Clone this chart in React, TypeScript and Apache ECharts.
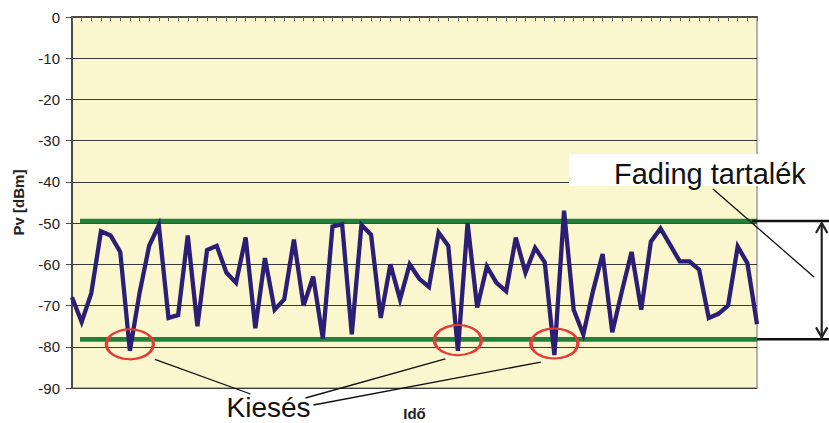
import React, { useEffect, useRef } from "react";
import * as echarts from "echarts";

// ---- data ----
const timeSteps = [
  "1","2","3","4","5","6","7","8","9","10","11","12","13","14","15","16","17","18",
  "19","20","21","22","23","24","25","26","27","28","29","30","31","32","33","34","35","36",
  "37","38","39","40","41","42","43","44","45","46","47","48","49","50","51","52","53","54",
  "55","56","57","58","59","60","61","62","63","64","65","66","67","68","69","70","71","72",
];
const signalLevel = [
  -68, -74, -67, -52, -53, -57, -81, -67, -55.5, -50.5, -73, -72.3,
  -53, -75, -56.5, -55.5, -62, -64.5, -53.5, -75.5, -58.5, -71, -68.5, -54,
  -70, -63, -78, -50.8, -50.3, -77, -50.4, -52.8, -73, -60, -68.5, -60,
  -63.5, -65.5, -52.3, -55.5, -81, -50, -70.5, -60.5, -64.5, -66.5, -53.5, -62,
  -56, -59.5, -82, -47, -71, -77, -66.5, -57.5, -76.5, -66.5, -57, -71,
  -54.5, -51.3, -55.3, -59.3, -59.3, -61.3, -73, -72, -70, -55.7, -59.7, -74.5,
];
const yMin = -90;
const yMax = 0;
const yStep = 10;
const upperLevel = -49.5; // fading margin top
const lowerLevel = -78.2; // sensitivity threshold
const outageIndex = [6, 40, 50];
const outageMarkLevel = [-79.4, -78.4, -79.2];
const yAxisTitle = "Pv [dBm]";
const xAxisTitle = "Idő";
const marginLabel = "Fading tartalék";
const outageLabel = "Kiesés";

const FONT = "'Liberation Sans', Arial, Helvetica, sans-serif";

export default function App() {
  const ref = useRef<HTMLDivElement>(null);

  useEffect(() => {
    if (!ref.current) return;
    const chart = echarts.init(ref.current, undefined, { renderer: "svg" });

    chart.setOption({
      animation: false,
      backgroundColor: "#ffffff",
      textStyle: { fontFamily: FONT },
      grid: {
        left: 72,
        right: 72,
        top: 17,
        bottom: 35,
        show: true,
        backgroundColor: "#FAF6CE",
        borderColor: "#9a9a9a",
        borderWidth: 1.5,
        containLabel: false,
        outerBoundsMode: "none",
      },
      xAxis: {
        type: "category",
        data: timeSteps,
        boundaryGap: false,
        name: xAxisTitle,
        nameLocation: "middle",
        nameGap: 18,
        nameTextStyle: { fontFamily: FONT, fontSize: 15, fontWeight: "bold", color: "#222" },
        axisLine: { show: true, lineStyle: { color: "#4a4a4a", width: 2 } },
        axisTick: { show: true, interval: 0, length: 4, lineStyle: { color: "#666", width: 1 } },
        axisLabel: { show: false, interval: 0 },
        splitLine: { show: false },
      },
      yAxis: {
        type: "value",
        min: yMin,
        max: yMax,
        interval: yStep,
        name: yAxisTitle,
        nameLocation: "middle",
        nameGap: 46,
        nameRotate: 90,
        nameTextStyle: { fontFamily: FONT, fontSize: 15, fontWeight: "bold", color: "#222" },
        axisLine: { show: true, lineStyle: { color: "#4a4a4a", width: 2 } },
        axisTick: { show: true, length: 6, lineStyle: { color: "#4a4a4a", width: 1 } },
        axisLabel: { fontFamily: FONT, fontSize: 15, color: "#222", margin: 12 },
        splitLine: { show: true, lineStyle: { color: "#3a3a3a", width: 1 } },
      },
      series: [
        {
          type: "line",
          data: signalLevel,
          symbol: "none",
          z: 3,
          lineStyle: { color: "#2B1E74", width: 4.3, join: "miter", miterLimit: 10 },
          markPoint: {
            symbol: "circle",
            symbolSize: [47, 30],
            silent: true,
            label: { show: false },
            itemStyle: { color: "rgba(0,0,0,0)", borderColor: "#E33B37", borderWidth: 2.7 },
            data: outageIndex.map((idx, k) => ({ coord: [idx, outageMarkLevel[k]] })),
            z: 8,
          },
        },
      ],
    });

    const py = (v: number) => chart.convertToPixel({ yAxisIndex: 0 }, v) as number;
    const pp = (i: number, v: number) =>
      chart.convertToPixel({ seriesIndex: 0 }, [i, v]) as number[];
    const yU = py(upperLevel);
    const yL = py(lowerLevel);
    const c = outageIndex.map((idx, k) => pp(idx, outageMarkLevel[k]));

    const thin = { stroke: "#111", lineWidth: 1.3 };

    chart.setOption({
      graphic: [
        { type: "line", z: 1, shape: { x1: 80, y1: yU, x2: 757, y2: yU }, style: { stroke: "#22803A", lineWidth: 4.7 } },
        { type: "line", z: 1, shape: { x1: 80, y1: yL, x2: 757, y2: yL }, style: { stroke: "#22803A", lineWidth: 4.7 } },
        { type: "line", z: 5, shape: { x1: 752, y1: yU, x2: 829, y2: yU }, style: { stroke: "#111", lineWidth: 2.5 } },
        { type: "line", z: 5, shape: { x1: 757, y1: yL, x2: 829, y2: yL }, style: { stroke: "#111", lineWidth: 2.5 } },
        { type: "line", z: 5, shape: { x1: 821.7, y1: yU + 2, x2: 821.7, y2: yL - 2 }, style: { stroke: "#222", lineWidth: 2.2 } },
        {
          type: "polyline", z: 5,
          shape: { points: [[816, yU + 12], [821.7, yU + 2], [827.4, yU + 12]] },
          style: { stroke: "#222", lineWidth: 2.2, fill: "none" },
        },
        {
          type: "polyline", z: 5,
          shape: { points: [[816, yL - 12], [821.7, yL - 2], [827.4, yL - 12]] },
          style: { stroke: "#222", lineWidth: 2.2, fill: "none" },
        },
        { type: "rect", z: 6, shape: { x: 569, y: 154, width: 260, height: 32 }, style: { fill: "#ffffff" } },
        {
          type: "text", z: 7, x: 614, y: 173.5,
          style: { text: marginLabel, font: `29px ${FONT}`, fill: "#111", verticalAlign: "middle", align: "left" },
        },
        { type: "line", z: 7, shape: { x1: 713, y1: 189, x2: 814, y2: 277 }, style: thin },
        {
          type: "text", z: 7, x: 226.5, y: 407.3,
          style: { text: outageLabel, font: `28px ${FONT}`, fill: "#111", verticalAlign: "middle", align: "left" },
        },
        { type: "line", z: 7, shape: { x1: c[0][0] + 25, y1: c[0][1] + 15, x2: 250.5, y2: 394 }, style: thin },
        { type: "line", z: 7, shape: { x1: c[1][0] - 12.6, y1: c[1][1] + 18.8, x2: 305.5, y2: 398 }, style: thin },
        { type: "line", z: 7, shape: { x1: c[2][0] - 13.6, y1: c[2][1] + 18.6, x2: 313.5, y2: 405 }, style: thin },
      ],
    });

    return () => chart.dispose();
  }, []);

  return (
    <div
      ref={ref}
      style={{ position: "fixed", left: 0, top: 0, width: 829, height: 423 }}
    />
  );
}
